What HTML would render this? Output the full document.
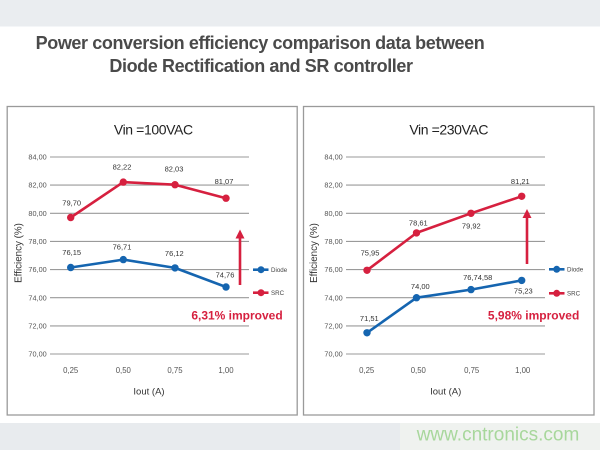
<!DOCTYPE html>
<html><head><meta charset="utf-8"><style>
html,body{margin:0;padding:0;background:#fff;}
svg{display:block;}
text{font-family:"Liberation Sans",Arial,sans-serif;}
</style></head><body>
<svg width="600" height="450" viewBox="0 0 600 450" xmlns="http://www.w3.org/2000/svg">
<rect x="0" y="0" width="600" height="450" fill="#ffffff"/>
<rect x="0" y="0" width="600" height="26.5" fill="#eaedf0"/>
<rect x="0" y="423" width="400" height="27" fill="#e8ebee"/>
<rect x="400" y="423" width="200" height="27" fill="#eff2ef"/>
<text x="498" y="440.7" font-size="19" fill="#a8d79c" text-anchor="middle">www.cntronics.com</text>

<text x="260" y="49" font-size="18" font-weight="bold" fill="#4a4a4a" text-anchor="middle" letter-spacing="-0.4">Power conversion efficiency comparison data between</text>
<text x="261" y="72" font-size="18" font-weight="bold" fill="#4a4a4a" text-anchor="middle" letter-spacing="-0.4">Diode Rectification and SR controller</text>

<!-- Left panel -->
<rect x="7.2" y="106.5" width="290" height="308.5" fill="#fff" stroke="#9a9a9a" stroke-width="1.3"/>
<text x="153.3" y="134.5" font-size="14" fill="#222" text-anchor="middle" letter-spacing="-0.4">Vin =100VAC</text>
<g stroke="#9a9a9a" stroke-width="1.1">
<line x1="50" y1="157" x2="249" y2="157"/>
<line x1="50" y1="185.1" x2="249" y2="185.1"/>
<line x1="50" y1="213.3" x2="249" y2="213.3"/>
<line x1="50" y1="241.4" x2="249" y2="241.4"/>
<line x1="50" y1="269.6" x2="249" y2="269.6"/>
<line x1="50" y1="297.7" x2="249" y2="297.7"/>
<line x1="50" y1="325.9" x2="249" y2="325.9"/>
<line x1="50" y1="354" x2="249" y2="354"/>
</g>
<g font-size="7.3" fill="#555" text-anchor="end">
<text x="46.7" y="159.6">84,00</text>
<text x="46.7" y="187.7">82,00</text>
<text x="46.7" y="215.9">80,00</text>
<text x="46.7" y="244">78,00</text>
<text x="46.7" y="272.2">76,00</text>
<text x="46.7" y="300.3">74,00</text>
<text x="46.7" y="328.5">72,00</text>
<text x="46.7" y="356.6">70,00</text>
</g>
<g font-size="7.8" fill="#555" text-anchor="middle">
<text x="70.7" y="372.8">0,25</text>
<text x="123.3" y="372.8">0,50</text>
<text x="175" y="372.8">0,75</text>
<text x="226" y="372.8">1,00</text>
</g>
<text x="149" y="394.5" font-size="9.5" fill="#333" text-anchor="middle">Iout (A)</text>
<text transform="translate(21.3,253) rotate(-90)" font-size="9.8" fill="#333" text-anchor="middle">Efficiency (%)</text>

<polyline points="70.7,217.5 123.3,182.1 175,184.7 226,198.2" fill="none" stroke="#d6203f" stroke-width="2.6" stroke-linejoin="round"/>
<g fill="#d6203f">
<circle cx="70.7" cy="217.5" r="3.7"/><circle cx="123.3" cy="182.1" r="3.7"/><circle cx="175" cy="184.7" r="3.7"/><circle cx="226" cy="198.2" r="3.7"/>
</g>
<polyline points="70.7,267.5 123.3,259.6 175,267.9 226,287" fill="none" stroke="#1565b0" stroke-width="2.6" stroke-linejoin="round"/>
<g fill="#1565b0">
<circle cx="70.7" cy="267.5" r="3.7"/><circle cx="123.3" cy="259.6" r="3.7"/><circle cx="175" cy="267.9" r="3.7"/><circle cx="226" cy="287" r="3.7"/>
</g>
<g font-size="7.5" fill="#333" text-anchor="middle">
<text x="71.7" y="205.4">79,70</text>
<text x="122" y="169.4">82,22</text>
<text x="174" y="171.7">82,03</text>
<text x="224" y="184">81,07</text>
<text x="71.7" y="255">76,15</text>
<text x="122" y="249.4">76,71</text>
<text x="174.3" y="256">76,12</text>
<text x="225" y="277.4">74,76</text>
</g>
<line x1="240" y1="285" x2="240" y2="236" stroke="#d6203f" stroke-width="2.6"/>
<polygon points="240,229.5 235.5,238.5 244.5,238.5" fill="#d6203f"/>
<line x1="253" y1="269.7" x2="268.5" y2="269.7" stroke="#1565b0" stroke-width="2.6"/>
<circle cx="261" cy="269.7" r="3.5" fill="#1565b0"/>
<text x="271" y="271.9" font-size="6.2" fill="#444">Diode</text>
<line x1="253" y1="292.7" x2="268.5" y2="292.7" stroke="#d6203f" stroke-width="2.6"/>
<circle cx="261" cy="292.7" r="3.5" fill="#d6203f"/>
<text x="271" y="294.9" font-size="6.2" fill="#444">SRC</text>
<text x="282.7" y="319.3" font-size="12" font-weight="bold" fill="#d6203f" text-anchor="end">6,31% improved</text>

<!-- Right panel -->
<rect x="303.5" y="106.5" width="290.5" height="308.5" fill="#fff" stroke="#9a9a9a" stroke-width="1.3"/>
<text x="448.7" y="134.5" font-size="14" fill="#222" text-anchor="middle" letter-spacing="-0.4">Vin =230VAC</text>
<g stroke="#9a9a9a" stroke-width="1.1">
<line x1="346" y1="157" x2="545" y2="157"/>
<line x1="346" y1="185.1" x2="545" y2="185.1"/>
<line x1="346" y1="213.3" x2="545" y2="213.3"/>
<line x1="346" y1="241.4" x2="545" y2="241.4"/>
<line x1="346" y1="269.6" x2="545" y2="269.6"/>
<line x1="346" y1="297.7" x2="545" y2="297.7"/>
<line x1="346" y1="325.9" x2="545" y2="325.9"/>
<line x1="346" y1="354" x2="545" y2="354"/>
</g>
<g font-size="7.3" fill="#555" text-anchor="end">
<text x="342.7" y="159.6">84,00</text>
<text x="342.7" y="187.7">82,00</text>
<text x="342.7" y="215.9">80,00</text>
<text x="342.7" y="244">78,00</text>
<text x="342.7" y="272.2">76,00</text>
<text x="342.7" y="300.3">74,00</text>
<text x="342.7" y="328.5">72,00</text>
<text x="342.7" y="356.6">70,00</text>
</g>
<g font-size="7.8" fill="#555" text-anchor="middle">
<text x="366.7" y="372.8">0,25</text>
<text x="418.3" y="372.8">0,50</text>
<text x="471.7" y="372.8">0,75</text>
<text x="522.7" y="372.8">1,00</text>
</g>
<text x="445.7" y="394.5" font-size="9.5" fill="#333" text-anchor="middle">Iout (A)</text>
<text transform="translate(317,253) rotate(-90)" font-size="9.8" fill="#333" text-anchor="middle">Efficiency (%)</text>

<polyline points="367,270.3 416.5,232.9 471,213.3 521.7,196.3" fill="none" stroke="#d6203f" stroke-width="2.6" stroke-linejoin="round"/>
<g fill="#d6203f">
<circle cx="367" cy="270.3" r="3.7"/><circle cx="416.5" cy="232.9" r="3.7"/><circle cx="471" cy="213.3" r="3.7"/><circle cx="521.7" cy="196.3" r="3.7"/>
</g>
<polyline points="367,332.8 416.5,297.7 471,289.6 521.7,280.4" fill="none" stroke="#1565b0" stroke-width="2.6" stroke-linejoin="round"/>
<g fill="#1565b0">
<circle cx="367" cy="332.8" r="3.7"/><circle cx="416.5" cy="297.7" r="3.7"/><circle cx="471" cy="289.6" r="3.7"/><circle cx="521.7" cy="280.4" r="3.7"/>
</g>
<g font-size="7.5" fill="#333" text-anchor="middle">
<text x="370" y="255.4">75,95</text>
<text x="418.3" y="225.4">78,61</text>
<text x="471.3" y="228.7">79,92</text>
<text x="520.3" y="184">81,21</text>
<text x="369.3" y="321">71,51</text>
<text x="420.3" y="289">74,00</text>
<text x="477.7" y="280">76,74,58</text>
<text x="523.3" y="293.7">75,23</text>
</g>
<line x1="527" y1="264" x2="527" y2="215.5" stroke="#d6203f" stroke-width="2.6"/>
<polygon points="527,209 522.5,218 531.5,218" fill="#d6203f"/>
<line x1="549" y1="269.3" x2="564.5" y2="269.3" stroke="#1565b0" stroke-width="2.6"/>
<circle cx="556.7" cy="269.3" r="3.5" fill="#1565b0"/>
<text x="567" y="271.5" font-size="6.2" fill="#444">Diode</text>
<line x1="549" y1="293.3" x2="564.5" y2="293.3" stroke="#d6203f" stroke-width="2.6"/>
<circle cx="556.7" cy="293.3" r="3.5" fill="#d6203f"/>
<text x="567" y="295.5" font-size="6.2" fill="#444">SRC</text>
<text x="579.3" y="319.3" font-size="12" font-weight="bold" fill="#d6203f" text-anchor="end">5,98% improved</text>
</svg>
</body></html>
